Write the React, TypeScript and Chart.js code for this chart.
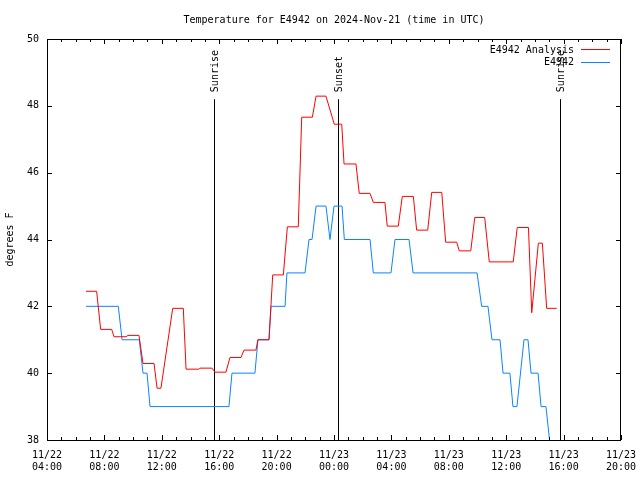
import React, { useEffect, useRef } from 'react';
import { Chart, registerables } from 'chart.js';

Chart.register(...registerables);

const TITLE = 'Temperature for E4942 on 2024-Nov-21 (time in UTC)';
const Y_TITLE = 'degrees F';

// x values are hours since 2024-11-22 00:00 UTC
const xMin = 4;
const xMax = 44;
const xTickHours = [4, 8, 12, 16, 20, 24, 28, 32, 36, 40, 44];
const xTickLabels = [
  ['11/22', '04:00'], ['11/22', '08:00'], ['11/22', '12:00'], ['11/22', '16:00'],
  ['11/22', '20:00'], ['11/23', '00:00'], ['11/23', '04:00'], ['11/23', '08:00'],
  ['11/23', '12:00'], ['11/23', '16:00'], ['11/23', '20:00'],
];
const yTickValues = [38, 40, 42, 44, 46, 48, 50];
const yTickLabels = ['38', '40', '42', '44', '46', '48', '50'];

const seriesNames = ['E4942 Analysis', 'E4942'];
const seriesColors = ['#ff0000', '#0a84ff'];

const analysisHours = [6.72, 7.46, 7.74, 8.51, 8.67, 9.51, 9.64, 10.41, 10.69, 11.46, 11.67, 11.94, 12.76, 13.5, 13.69, 14.59, 14.66, 15.5, 15.71, 16.47, 16.75, 17.52, 17.73, 18.56, 18.7, 19.47, 19.73, 20.47, 20.75, 21.51, 21.75, 22.49, 22.75, 23.44, 24.02, 24.54, 24.7, 25.53, 25.76, 26.51, 26.74, 27.55, 27.71, 28.48, 28.76, 29.53, 29.76, 30.53, 30.81, 31.51, 31.78, 32.55, 32.73, 33.53, 33.81, 34.5, 34.82, 36.49, 36.77, 37.55, 37.78, 38.24, 38.52, 38.82, 39.52];
const analysisTemps = [42.45, 42.45, 41.31, 41.31, 41.09, 41.09, 41.13, 41.13, 40.29, 40.29, 39.55, 39.55, 41.94, 41.94, 40.12, 40.12, 40.15, 40.15, 40.03, 40.03, 40.47, 40.47, 40.69, 40.69, 41.0, 41.0, 42.94, 42.94, 44.38, 44.38, 47.66, 47.66, 48.29, 48.29, 47.45, 47.45, 46.26, 46.26, 45.38, 45.38, 45.11, 45.11, 44.4, 44.4, 45.29, 45.29, 44.28, 44.28, 45.41, 45.41, 43.92, 43.92, 43.66, 43.66, 44.66, 44.66, 43.33, 43.33, 44.36, 44.36, 41.81, 43.89, 43.89, 41.94, 41.94];

const obsHours = [6.72, 8.97, 9.23, 10.43, 10.69, 10.97, 11.18, 16.68, 16.89, 18.49, 18.7, 19.47, 19.61, 20.59, 20.72, 21.98, 22.26, 22.47, 22.75, 23.44, 23.72, 24.0, 24.56, 24.72, 26.51, 26.74, 27.97, 28.25, 29.23, 29.51, 33.97, 34.29, 34.73, 35.01, 35.57, 35.78, 36.26, 36.47, 36.75, 37.24, 37.52, 37.73, 38.22, 38.43, 38.77, 39.02];
const obsTemps = [42, 42, 41, 41, 40, 40, 39, 39, 40, 40, 41, 41, 42, 42, 43, 43, 44, 44, 45, 45, 44, 45, 45, 44, 44, 43, 43, 44, 44, 43, 43, 42, 42, 41, 41, 40, 40, 39, 39, 41, 41, 40, 40, 39, 39, 38];

const sunEventHours = [15.64, 24.28, 39.75];
const sunEventLabels = ['Sunrise', 'Sunset', 'Sunrise'];
const sunLineTopValue = 48.2;

const FONT_FAMILY = '"DejaVu Sans Mono", "Liberation Mono", monospace';
const FONT = '10px ' + FONT_FAMILY;

const overlayPlugin = {
  id: 'gnuplotOverlay',
  beforeDatasetsDraw(chart: any) {
    const { ctx, chartArea: a, scales } = chart;
    const x = scales.x;
    const y = scales.y;
    ctx.save();
    ctx.strokeStyle = '#000';
    ctx.fillStyle = '#000';
    ctx.lineWidth = 1;
    ctx.font = FONT;
    sunEventHours.forEach((h, i) => {
      const px = Math.round(x.getPixelForValue(h)) + 0.5;
      const top = y.getPixelForValue(sunLineTopValue);
      ctx.beginPath();
      ctx.moveTo(px, top);
      ctx.lineTo(px, a.bottom);
      ctx.stroke();
      ctx.save();
      ctx.translate(px + 1, top - 7);
      ctx.rotate(-Math.PI / 2);
      ctx.textAlign = 'left';
      ctx.textBaseline = 'middle';
      ctx.fillText(sunEventLabels[i], 0, 0);
      ctx.restore();
    });
    ctx.restore();
  },
  afterDraw(chart: any) {
    const { ctx, chartArea: a, scales } = chart;
    const x = scales.x;
    const y = scales.y;
    ctx.save();
    ctx.strokeStyle = '#000';
    ctx.fillStyle = '#000';
    ctx.lineWidth = 1;
    // frame
    ctx.strokeRect(a.left + 0.5, a.top + 0.5, a.right - a.left - 1, a.bottom - a.top);
    // x ticks (inward, top & bottom), hourly minor
    ctx.beginPath();
    for (let h = xMin; h <= xMax; h += 1) {
      const len = xTickHours.includes(h) ? 5 : 3;
      const px = Math.round(x.getPixelForValue(h)) + 0.5;
      ctx.moveTo(px, a.bottom);
      ctx.lineTo(px, a.bottom - len);
      ctx.moveTo(px, a.top);
      ctx.lineTo(px, a.top + len);
    }
    yTickValues.forEach((v) => {
      const py = Math.round(y.getPixelForValue(v)) + 0.5;
      ctx.moveTo(a.left, py);
      ctx.lineTo(a.left + 5, py);
      ctx.moveTo(a.right, py);
      ctx.lineTo(a.right - 5, py);
    });
    ctx.stroke();
    // title
    ctx.font = FONT;
    ctx.textAlign = 'center';
    ctx.textBaseline = 'middle';
    ctx.fillText(TITLE, (a.left + a.right) / 2, 20);
    // legend
    ctx.textAlign = 'right';
    seriesNames.forEach((name, i) => {
      const ly = 50 + i * 12.5;
      ctx.fillStyle = '#000';
      ctx.fillText(name, 574, ly);
      ctx.strokeStyle = seriesColors[i];
      ctx.beginPath();
      ctx.moveTo(581, Math.round(ly) - 0.5);
      ctx.lineTo(610, Math.round(ly) - 0.5);
      ctx.stroke();
    });
    ctx.restore();
  },
};

export default function App() {
  const canvasRef = useRef<HTMLCanvasElement | null>(null);

  useEffect(() => {
    const canvas = canvasRef.current;
    if (!canvas) return;
    const chart = new Chart(canvas, {
      type: 'line',
      data: {
        datasets: [
          {
            label: seriesNames[0],
            data: analysisHours.map((h, i) => ({ x: h, y: analysisTemps[i] })),
            borderColor: seriesColors[0],
            backgroundColor: seriesColors[0],
            borderWidth: 1,
            pointRadius: 0,
            tension: 0,
            fill: false,
          },
          {
            label: seriesNames[1],
            data: obsHours.map((h, i) => ({ x: h, y: obsTemps[i] })),
            borderColor: seriesColors[1],
            backgroundColor: seriesColors[1],
            borderWidth: 1,
            pointRadius: 0,
            tension: 0,
            fill: false,
          },
        ],
      },
      options: {
        animation: false,
        responsive: false,
        devicePixelRatio: 1,
        layout: { padding: { top: 39, right: 19, left: 0, bottom: 0 } },
        plugins: {
          legend: { display: false },
          title: { display: false },
          tooltip: { enabled: false },
        },
        scales: {
          x: {
            type: 'linear',
            min: xMin,
            max: xMax,
            afterBuildTicks: (s: any) => {
              s.ticks = xTickHours.map((v) => ({ value: v }));
            },
            ticks: {
              callback: (_v: any, i: number) => xTickLabels[i],
              maxRotation: 0,
              minRotation: 0,
              autoSkip: false,
              padding: 9,
              color: '#000',
              font: { family: FONT_FAMILY, size: 10 },
            },
            grid: { display: false, drawTicks: false },
            border: { display: false },
            afterFit: (s: any) => {
              s.height = 40;
              s.paddingLeft = 0;
              s.paddingRight = 0;
            },
          },
          y: {
            type: 'linear',
            min: 38,
            max: 50,
            afterBuildTicks: (s: any) => {
              s.ticks = yTickValues.map((v) => ({ value: v }));
            },
            ticks: {
              callback: (_v: any, i: number) => yTickLabels[i],
              padding: 8,
              color: '#000',
              font: { family: FONT_FAMILY, size: 10 },
            },
            title: {
              display: true,
              text: Y_TITLE,
              color: '#000',
              font: { family: FONT_FAMILY, size: 10 },
              padding: { top: 4, bottom: 4 },
            },
            grid: { display: false, drawTicks: false },
            border: { display: false },
            afterFit: (s: any) => {
              s.width = 47;
              s.paddingTop = 0;
              s.paddingBottom = 0;
            },
          },
        },
      },
      plugins: [overlayPlugin],
    } as any);
    return () => chart.destroy();
  }, []);

  return (
    <div style={{ position: 'absolute', left: 0, top: 0, width: 640, height: 480, background: '#fff' }}>
      <canvas ref={canvasRef} width={640} height={480} style={{ display: 'block' }} />
    </div>
  );
}
